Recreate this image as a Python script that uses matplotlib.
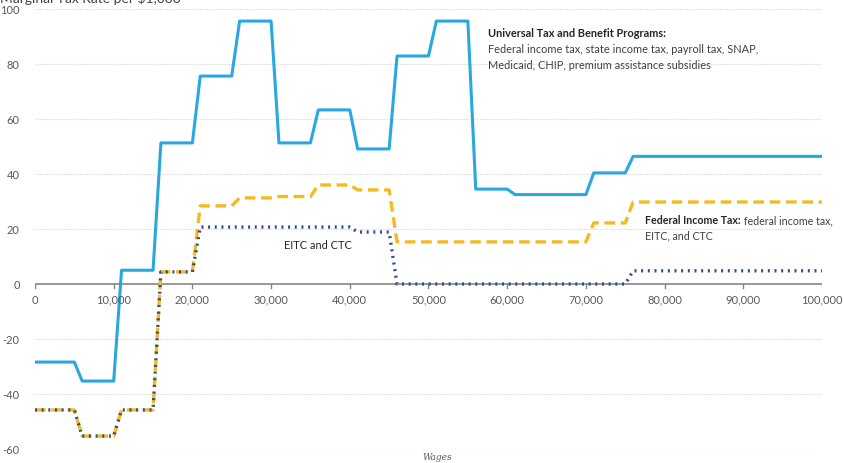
import matplotlib.pyplot as plt

plt.rcParams['font.family'] = ['Lato', 'DejaVu Sans']

wages = [0, 5000, 6000, 10000, 11000, 15000, 16000, 20000, 21000, 25000, 26000,
         30000, 31000, 35000, 36000, 40000, 41000, 45000, 46000, 50000, 51000,
         55000, 56000, 60000, 61000, 70000, 71000, 75000, 76000, 100000]

universal = [-28.4, -28.4, -35.3, -35.3, 5.0, 5.0, 51.3, 51.3, 75.6, 75.6, 95.6,
             95.6, 51.3, 51.3, 63.3, 63.3, 49.1, 49.1, 82.9, 82.9, 95.6,
             95.6, 34.5, 34.5, 32.5, 32.5, 40.4, 40.4, 46.4, 46.4]

federal = [-45.8, -45.8, -55.3, -55.3, -45.8, -45.8, 4.4, 4.4, 28.4, 28.4, 31.3,
           31.3, 31.8, 31.8, 36.0, 36.0, 34.2, 34.2, 15.3, 15.3, 15.3,
           15.3, 15.3, 15.3, 15.3, 15.3, 22.2, 22.2, 29.8, 29.8]

eitc_ctc = [-45.8, -45.8, -55.3, -55.3, -45.8, -45.8, 4.4, 4.4, 20.7, 20.7, 20.7,
            20.7, 20.7, 20.7, 20.7, 20.7, 18.9, 18.9, 0.0, 0.0, 0.0,
            0.0, 0.0, 0.0, 0.0, 0.0, 0.0, 0.0, 4.8, 4.8]

xticks = list(range(0, 100001, 10000))
yticks = list(range(-60, 101, 20))

fig = plt.figure(figsize=(8.45, 4.64), dpi=100)
ax = fig.add_axes([0.0414, 0.0302, 0.9314, 0.9483])

for y in yticks:
    if y != 0:
        ax.axhline(y, color='#d9d9d9', lw=0.8, ls=(0, (1, 1)), zorder=0)
ax.axhline(0, color='#868686', lw=1.2, zorder=1)

ax.plot(wages, universal, color='#29a8e0', lw=2.2, zorder=3)
ax.plot(wages, federal, color='#f5b921', lw=2.4, ls=(0, (3.2, 1.7)), zorder=3)
ax.plot(wages, eitc_ctc, color='#2f4f80', lw=2.4, ls=(0, (0.6, 1.4)), zorder=4)

ax.set_xlim(0, 100000)
ax.set_ylim(-60, 100)
for s in ax.spines.values():
    s.set_visible(False)

ax.set_yticks(yticks)
ax.set_yticklabels([str(y) for y in yticks], color='#595959', fontsize=8)
ax.tick_params(axis='y', length=0, pad=11)
ax.set_xticks([])

# x labels sit under the zero line
for x in xticks:
    ax.plot([x, x], [0, -1.3], color='#868686', lw=1.0, zorder=1)
    ax.text(x, -3.5, f'{x:,}', ha='center', va='top', color='#595959', fontsize=8)

fig.text(0.517, 0.014, 'Wages', ha='center', va='center',
         fontsize=6.5, style='italic', family='DejaVu Serif', color='#595959')

fig.text(0.0, 1.004, 'Marginal Tax Rate per $1,000', ha='left', va='center',
         fontsize=10, color='#404040')

fs = 7.9
ax.text(57500, 91.5, 'Universal Tax and Benefit Programs:', fontsize=fs,
        fontweight='bold', color='#262626', va='center')
ax.text(57500, 85.6, 'Federal income tax, state income tax, payroll tax, SNAP,',
        fontsize=fs, color='#404040', va='center')
ax.text(57500, 79.8, 'Medicaid, CHIP, premium assistance subsidies',
        fontsize=fs, color='#404040', va='center')

fed = ax.text(77500, 22.2, 'Federal Income Tax:', fontsize=7.7, fontweight='bold',
              color='#262626', va='baseline')
fig.canvas.draw()
bb = fed.get_window_extent()
x_end = ax.transData.inverted().transform((bb.x1, bb.y0))[0]
ax.text(x_end, 22.2, ' federal income tax,', fontsize=7.7,
        color='#404040', va='baseline', ha='left')
ax.text(77500, 17.9, 'EITC, and CTC', fontsize=7.7, color='#404040', va='center')
ax.text(31600, 14.2, 'EITC and CTC', fontsize=fs, color='#262626', va='center')

fig.savefig('out.png', dpi=100)
